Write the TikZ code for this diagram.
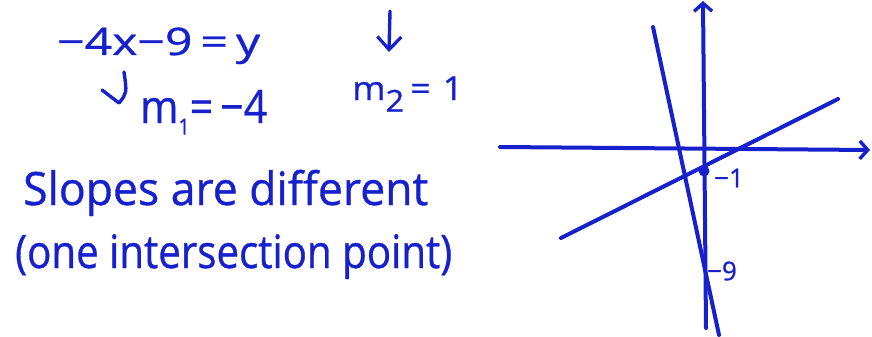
\documentclass[tikz,border=0pt]{standalone}
\usepackage{fontspec}
\setmainfont{Open Sans}[FakeBold=0.8]
\usepackage{graphicx}
\usetikzlibrary{arrows.meta}
\definecolor{ink}{RGB}{22,32,205}
\newcommand\fitx[2]{\setbox0\hbox{#2}\dimen0=\wd0\pgfmathsetmacro\sxfac{#1/\the\dimen0}\scalebox{\sxfac}[1]{\box0}}
\begin{document}
\begin{tikzpicture}[x=1pt,y=-1pt,
  hand/.style={text=ink,inner sep=0pt,anchor=base west},
  stroke/.style={draw=ink,line width=4pt,line cap=round,line join=round},
  barb/.style={-{Straight Barb[length=8pt,width=18pt,line width=3.4pt]}}]
\useasboundingbox (0,0) rectangle (872,337);
% texts
\node[hand,font=\fontsize{38}{40}\selectfont] (eq) at (57,55) {\fitx{203pt}{−4x−9\,=\,y}};
\node[hand,font=\fontsize{46}{48}\selectfont] (m1) at (140,123) {\fitx{127pt}{m\raisebox{-0.25em}{\fontsize{22}{24}\selectfont 1}=\,−4}};
\node[hand,font=\fontsize{33}{35}\selectfont] (m2) at (352,100) {\fitx{111pt}{m\raisebox{-0.35em}{\fontsize{30}{32}\selectfont 2}\,=\,\,1}};
\node[hand,font=\fontsize{46}{48}\selectfont] (s1) at (23,205) {\fitx{405pt}{Slopes are different}};
\node[hand,font=\fontsize{46}{48}\selectfont] (s2) at (15,268) {\fitx{437pt}{(one intersection point)}};
% arrows near text
\coordinate (d1) at (390,11);
\coordinate (d2) at (389,52);
\draw[stroke,line width=3.4pt,-{Straight Barb[length=13pt,width=24pt,line width=3.2pt]}] (d1) -- (d2);
\coordinate (h1) at (124,72);
\coordinate (hc) at (127,93);
\coordinate (ht) at (119,103);
\coordinate (hb) at (102,90);
\draw[stroke,line width=3.4pt] (h1) .. controls (hc) .. (ht) -- (hb);
% graph
\coordinate (xl) at (500,147);
\coordinate (xr) at (870,150);
\coordinate (yb) at (706,328);
\coordinate (yt) at (703,1);
\draw[stroke,barb] (xl) -- (xr);
\draw[stroke,barb] (yb) -- (yt);
\coordinate (a1) at (653,27);
\coordinate (a2) at (719,335);
\draw[stroke] (a1) -- (a2);
\coordinate (b1) at (561,238);
\coordinate (b2) at (838,99);
\draw[stroke] (b1) -- (b2);
\fill[ink] (704,171) circle (5.5pt);
\node[hand,anchor=center,font=\fontsize{26}{28}\selectfont] (l1) at (729,178) {−1};
\node[hand,anchor=center,font=\fontsize{26}{28}\selectfont] (l9) at (722,271) {−9};
\end{tikzpicture}
\end{document}
